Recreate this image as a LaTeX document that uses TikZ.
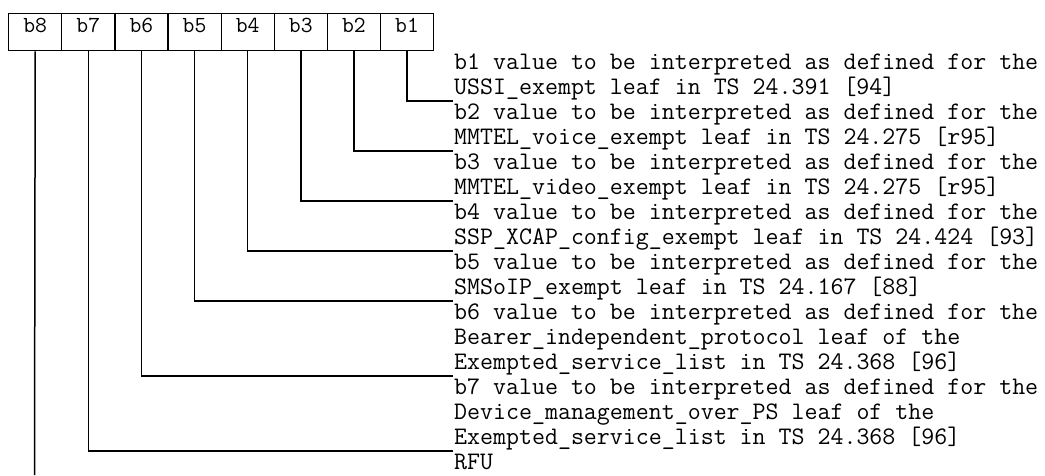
\documentclass[tikz,border=0pt]{standalone}
\usepackage{fontspec}
\begin{document}
\begin{tikzpicture}[x=1pt,y=1pt,
  bitbox/.style={draw,line width=1.3pt,minimum width=53.125pt,inner sep=0pt,
    text height=19pt,text depth=18pt,anchor=north west,
    font=\ttfamily\fontsize{23}{24}\selectfont},
  desc/.style={anchor=base west,inner sep=0pt,align=left,
    font=\ttfamily\fontsize{25.2}{25}\selectfont},
  conn/.style={line width=1.5pt}]
\useasboundingbox (0,0) rectangle (1045,-475);
\foreach \i [count=\k from 0] in {8,...,1} {
  \node[bitbox] (b\i) at (8+53.125*\k,-13) {b\i};
}
\node[desc] (d1) at (454,-94) {b1 value to be interpreted as defined for the\\USSI\_exempt leaf in TS 24.391 [94]};
\node[desc] (d2) at (454,-144) {b2 value to be interpreted as defined for the\\MMTEL\_voice\_exempt leaf in TS 24.275 [r95]};
\node[desc] (d3) at (454,-194) {b3 value to be interpreted as defined for the\\MMTEL\_video\_exempt leaf in TS 24.275 [r95]};
\node[desc] (d4) at (454,-244) {b4 value to be interpreted as defined for the\\SSP\_XCAP\_config\_exempt leaf in TS 24.424 [93]};
\node[desc] (d5) at (454,-294) {b5 value to be interpreted as defined for the\\SMSoIP\_exempt leaf in TS 24.167 [88]};
\node[desc] (d6) at (454,-369) {b6 value to be interpreted as defined for the\\Bearer\_independent\_protocol leaf of the\\Exempted\_service\_list in TS 24.368 [96]};
\node[desc] (d7) at (454,-444) {b7 value to be interpreted as defined for the\\Device\_management\_over\_PS leaf of the\\Exempted\_service\_list in TS 24.368 [96]};
\node[desc] (d8) at (454,-469) {RFU};
\coordinate (e1) at (453,-101);
\coordinate (e2) at (453,-151);
\coordinate (e3) at (453,-201);
\coordinate (e4) at (453,-251);
\coordinate (e5) at (453,-301);
\coordinate (e6) at (453,-376);
\coordinate (e7) at (453,-451);
\coordinate (e8) at (34.5,-475);
\foreach \i in {1,...,7} { \draw[conn] (b\i.south) |- (e\i); }
\draw[conn] (b8.south) -- (e8);
\end{tikzpicture}
\end{document}
